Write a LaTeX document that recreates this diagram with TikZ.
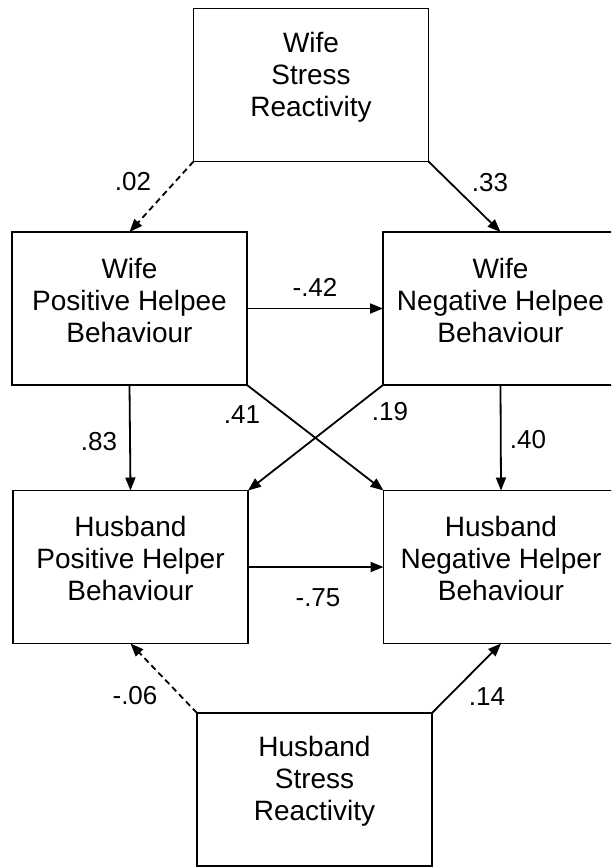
\documentclass[tikz,border=0pt]{standalone}
\usepackage{fontspec}
\setmainfont{Liberation Sans}
\usepackage{tikz}
\usetikzlibrary{arrows.meta, positioning}

\begin{document}
\begin{tikzpicture}[x=1pt, y=-1pt,
        box/.style={draw, line width=1.4pt, minimum width=235pt, minimum height=153pt, inner sep=0pt, outer sep=0pt},
        txt/.style={align=center, font=\fontsize{28}{32}\selectfont},
        lbl/.style={font=\fontsize{26}{30}\selectfont, inner sep=0pt},
        path/.style={line width=1.8pt, -{Triangle[length=13pt, width=10pt]}},
        weak/.style={path, dash pattern=on 6pt off 4pt}]
                            \useasboundingbox (0, 0) rectangle (611, 867);
                            \clip (0, 0) rectangle (611, 867);

                            % boxes
                            \node[box] (wsr) at (311, 85) {};
                            \node[box] (wphb) at (129.5, 308.5) {};
                            \node[box] (wnhb) at (500.5, 308.5) {};
                            \node[box] (hphb) at (130.5, 567) {};
                            \node[box] (hnhb) at (501, 567) {};
                            \node[box] (hsr) at (314.5, 789.5) {};

                            \node[txt] (wsr-t) at (311, 77) {Wife\\Stress\\Reactivity};
                            \node[txt] (wphb-t) at (129.5, 300) {Wife\\Positive Helpee\\Behaviour};
                            \node[txt] (wnhb-t) at (500.5, 300) {Wife\\Negative Helpee\\Behaviour};
                            \node[txt] (hphb-t) at (130.5, 558) {Husband\\Positive Helper\\Behaviour};
                            \node[txt] (hnhb-t) at (501, 558) {Husband\\Negative Helper\\Behaviour};
                            \node[txt] (hsr-t) at (314.5, 781) {Husband\\Stress\\Reactivity};

                            % paths
                            \draw
                            (wsr.south west) edge[weak] (wphb.north)
                            (wsr.south east) edge[path] (wnhb.north)
                            (wphb.east) edge[path] (wnhb.west)
                            (wphb.south) edge[path] (hphb.north)
                            (wphb.south east) edge[path] (hnhb.north west)
                            (wnhb.south west) edge[path] (hphb.north east)
                            (wnhb.south) edge[path] (hnhb.north)
                            (hphb.east) edge[path] (hnhb.west)
                            (hsr.north west) edge[weak] (hphb.south)
                            (hsr.north east) edge[path] (hnhb.south);

                            % coefficients
                            \node[lbl] (c02) at (133, 182) {.02};
                            \node[lbl] (c33) at (490, 183) {.33};
                            \node[lbl] (c42) at (315, 287) {-.42};
                            \node[lbl] (c41) at (242, 415) {.41};
                            \node[lbl] (c19) at (390, 412) {.19};
                            \node[lbl] (c83) at (99, 442) {.83};
                            \node[lbl] (c40) at (528, 440) {.40};
                            \node[lbl] (c75) at (318, 598) {-.75};
                            \node[lbl] (c06) at (135, 696) {-.06};
                            \node[lbl] (c14) at (487, 697) {.14};
                        \end{tikzpicture}
\end{document}
